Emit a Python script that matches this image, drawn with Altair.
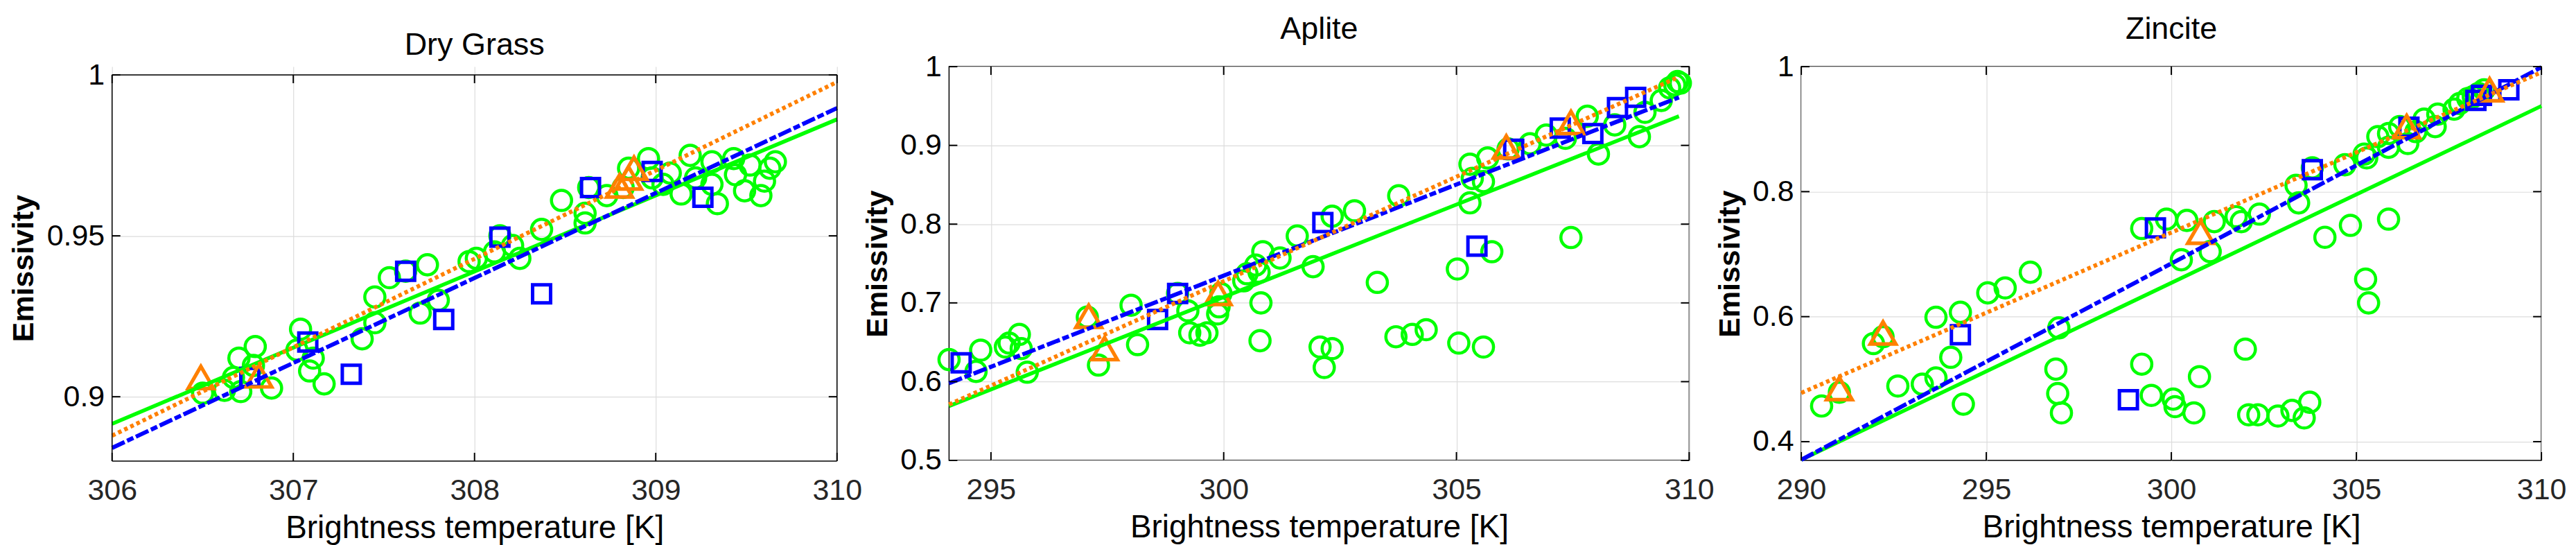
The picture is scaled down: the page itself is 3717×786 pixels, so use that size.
import altair as alt
import pandas as pd

FONT = "Liberation Sans"
GREEN = "#00ff00"
BLUE = "#0000ff"
ORANGE = "#ff8000"

# ---------------- Dry Grass ----------------
dg_circ_x = [306.50, 306.62, 306.67, 306.70, 306.71, 306.79, 306.78, 306.88, 307.04, 307.02,
             307.11, 307.09, 307.17, 307.38, 307.45, 307.45, 307.53, 307.62, 307.70, 307.74,
             307.80, 307.97, 308.01, 308.11, 308.14, 308.21, 308.25, 308.37, 308.48, 308.61,
             308.61, 308.63, 308.73, 308.82, 308.85, 308.96, 308.98, 309.04, 309.08, 309.14,
             309.19, 309.22, 309.31, 309.31, 309.34, 309.43, 309.44, 309.49, 309.52, 309.58,
             309.60, 309.63, 309.66]
dg_circ_y = [0.9011, 0.9020, 0.9060, 0.9120, 0.9016, 0.9156, 0.9097, 0.9027, 0.9210, 0.9145,
             0.9120, 0.9080, 0.9040, 0.9180, 0.9230, 0.9310, 0.9370, 0.9390, 0.9260, 0.9410,
             0.9300, 0.9420, 0.9430, 0.9450, 0.9500, 0.9470, 0.9430, 0.9520, 0.9610, 0.9540,
             0.9570, 0.9650, 0.9625, 0.9650, 0.9710, 0.9740, 0.9680, 0.9660, 0.9695, 0.9630,
             0.9750, 0.9680, 0.9730, 0.9660, 0.9600, 0.9740, 0.9690, 0.9640, 0.9720, 0.9625,
             0.9670, 0.9710, 0.9730]
dg_sq_x = [306.76, 307.08, 307.32, 307.62, 307.83, 308.14, 308.37, 308.64, 308.98, 309.26]
dg_sq_y = [0.9060, 0.9170, 0.9070, 0.9390, 0.9240, 0.9496, 0.9320, 0.9650, 0.9700, 0.9620]
dg_tri_x = [306.49, 306.81, 308.80, 308.85, 308.88]
dg_tri_y = [0.9060, 0.9065, 0.9655, 0.9680, 0.9710]
dg_fit_x = [306.0, 310.0]
dg_green_y = [0.8916, 0.9862]
dg_blue_y = [0.8841, 0.9897]
dg_orange_y = [0.8879, 0.9978]
dg_xticks = [306, 307, 308, 309, 310]
dg_yticks = [0.9, 0.95, 1.0]

# ---------------- Aplite ----------------
ap_circ_x = [294.10, 294.68, 294.78, 295.31, 295.39, 295.61, 295.65, 295.78, 297.07, 297.31,
             298.01, 298.15, 299.01, 299.23, 299.27, 299.49, 299.64, 299.87, 299.90, 299.94,
             300.43, 300.50, 300.69, 300.76, 300.84, 300.80, 300.78, 301.21, 301.58, 301.92,
             302.07, 302.16, 302.33, 302.33, 302.81, 303.30, 303.76, 303.70, 304.05, 304.35,
             305.02, 305.05, 305.29, 305.29, 305.34, 305.58, 305.58, 305.67, 305.76, 306.11,
             306.58, 306.93, 307.34, 307.46, 307.81, 308.05, 308.40, 308.93, 309.05, 309.40,
             309.58, 309.69, 309.75, 309.81]
ap_circ_y = [0.628, 0.613, 0.640, 0.644, 0.649, 0.660, 0.642, 0.612, 0.682, 0.621,
             0.697, 0.647, 0.712, 0.690, 0.662, 0.659, 0.662, 0.686, 0.695, 0.712,
             0.728, 0.737, 0.748, 0.739, 0.765, 0.700, 0.652, 0.757, 0.785, 0.746,
             0.644, 0.618, 0.642, 0.810, 0.817, 0.726, 0.836, 0.657, 0.660, 0.666,
             0.743, 0.649, 0.827, 0.876, 0.858, 0.644, 0.854, 0.884, 0.765, 0.8955,
             0.902, 0.913, 0.909, 0.783, 0.937, 0.889, 0.926, 0.911, 0.942, 0.957,
             0.973, 0.977, 0.981, 0.979]
ap_sq_x = [294.36, 298.58, 299.01, 302.13, 305.44, 306.23, 307.23, 307.93, 308.46, 308.85]
ap_sq_y = [0.624, 0.679, 0.712, 0.802, 0.772, 0.895, 0.922, 0.915, 0.948, 0.961]
ap_tri_x = [297.10, 297.44, 299.88, 306.07, 307.46]
ap_tri_y = [0.683, 0.642, 0.712, 0.898, 0.929]
ap_fit_x = [294.10, 309.78]
ap_green_y = [0.569, 0.937]
ap_blue_y = [0.598, 0.961]
ap_orange_y = [0.571, 0.987]
ap_xticks = [295, 300, 305, 310]
ap_yticks = [0.5, 0.6, 0.7, 0.8, 0.9, 1.0]

# ---------------- Zincite ----------------
zn_circ_x = [290.55, 291.03, 291.95, 292.21, 292.61, 293.27, 293.64, 293.64, 294.04, 294.30,
             294.38, 295.04, 295.51, 296.19, 296.88, 296.93, 297.03, 296.96, 299.20, 299.20,
             299.46, 299.87, 300.05, 300.10, 300.27, 300.42, 300.61, 300.76, 301.05, 301.16,
             301.75, 301.89, 302.00, 302.09, 302.34, 302.38, 302.88, 303.26, 303.44, 303.37,
             303.59, 303.74, 303.81, 304.15, 304.69, 304.84, 305.21, 305.28, 305.25, 305.33,
             305.58, 305.87, 305.87, 305.87, 306.17, 306.39, 306.61, 306.83, 307.13, 307.20,
             307.64, 307.79, 308.01, 308.16, 308.30, 308.45]
zn_circ_y = [0.457, 0.479, 0.557, 0.568, 0.489, 0.492, 0.502, 0.599, 0.535, 0.607,
             0.460, 0.638, 0.646, 0.671, 0.516, 0.477, 0.446, 0.582, 0.524, 0.741,
             0.474, 0.756, 0.468, 0.456, 0.691, 0.754, 0.446, 0.504, 0.704, 0.752,
             0.760, 0.752, 0.548, 0.443, 0.443, 0.764, 0.441, 0.450, 0.782, 0.810,
             0.438, 0.463, 0.838, 0.727, 0.843, 0.746, 0.860, 0.854, 0.660, 0.622,
             0.888, 0.893, 0.756, 0.871, 0.904, 0.877, 0.896, 0.916, 0.904, 0.924,
             0.932, 0.941, 0.949, 0.952, 0.957, 0.963]
zn_sq_x = [294.30, 298.84, 299.57, 303.81, 306.42, 308.23, 308.38, 309.12]
zn_sq_y = [0.571, 0.467, 0.742, 0.835, 0.903, 0.946, 0.954, 0.963]
zn_tri_x = [291.03, 292.21, 300.79, 306.36, 308.60]
zn_tri_y = [0.485, 0.574, 0.735, 0.904, 0.963]
zn_fit_x = [290.0, 310.0]
zn_green_y = [0.371, 0.937]
zn_blue_y = [0.371, 0.999]
zn_orange_y = [0.478, 0.991]
zn_xticks = [290, 295, 300, 305, 310]
zn_yticks = [0.4, 0.6, 0.8, 1.0]


def panel(name, cx, cy, sx, sy, tx, ty, fx, gy, by, oy, xdom, ydom, xticks, yticks,
          w, h, ytitle_x, top=0, title_offset=10.5):
    xs = alt.Scale(domain=xdom, nice=False, zero=False)
    if top:
        ys = alt.Scale(domain=ydom, nice=False, zero=False, range=[h, top])
    else:
        ys = alt.Scale(domain=ydom, nice=False, zero=False)
    xaxis = alt.Axis(values=xticks, format="~g", title="Brightness temperature [K]",
                     titleFont=FONT, titleFontSize=46, titleFontWeight="normal",
                     titleColor="black", titleY=75, titleBaseline="top",
                     labelFont=FONT, labelFontSize=43, labelColor="#262626",
                     labelPadding=21.5, labelFlush=False, labelOverlap=False,
                     ticks=False, tickSize=0, domain=False, grid=True,
                     gridColor="#dcdcdc", gridWidth=1.2)
    yaxis = alt.Axis(values=yticks, format="~g", title="Emissivity",
                     titleFont=FONT, titleFontSize=43, titleFontWeight="bold",
                     titleColor="black", titleX=ytitle_x, titleY=(h + top) / 2,
                     titleAngle=270, titleBaseline="bottom", titleAlign="center",
                     labelFont=FONT, labelFontSize=43, labelColor="black",
                     labelPadding=11, labelFlush=False, labelOverlap=False,
                     ticks=False, tickSize=0, domain=False, grid=True,
                     gridColor="#dcdcdc", gridWidth=1.2)
    X = alt.X("x:Q", scale=xs, axis=xaxis)
    Y = alt.Y("y:Q", scale=ys, axis=yaxis)

    circ = alt.Chart(pd.DataFrame({"x": cx, "y": cy})).mark_point(
        shape="circle", filled=False, stroke=GREEN, strokeWidth=4.5, size=850, opacity=1
    ).encode(x=X, y=Y)
    sq = alt.Chart(pd.DataFrame({"x": sx, "y": sy})).mark_point(
        shape="square", filled=False, stroke=BLUE, strokeWidth=5, size=676, opacity=1
    ).encode(x=X, y=Y)
    tri = alt.Chart(pd.DataFrame({"x": tx, "y": ty})).mark_point(
        shape="triangle-up", filled=False, stroke=ORANGE, strokeWidth=5.2, size=1369,
        opacity=1, strokeJoin="miter"
    ).encode(x=X, y=Y)
    lg = alt.Chart(pd.DataFrame({"x": fx, "y": gy})).mark_line(
        color=GREEN, strokeWidth=5.5).encode(x=X, y=Y)
    lb = alt.Chart(pd.DataFrame({"x": fx, "y": by})).mark_line(
        color=BLUE, strokeWidth=6, strokeDash=[20, 4, 10, 4]).encode(x=X, y=Y)
    lo = alt.Chart(pd.DataFrame({"x": fx, "y": oy})).mark_line(
        color=ORANGE, strokeWidth=6, strokeDash=[5.3, 4.5]).encode(x=X, y=Y)

    xt = pd.DataFrame({"x": xticks})
    yt = pd.DataFrame({"y": yticks})
    tk = dict(color="black", strokeWidth=2)
    t_top = alt.Chart(xt).mark_rule(**tk).encode(
        x=X, y=alt.value(top), y2=alt.value(top + 12))
    t_bot = alt.Chart(xt).mark_rule(**tk).encode(
        x=X, y=alt.value(h), y2=alt.value(h - 12))
    t_left = alt.Chart(yt).mark_rule(**tk).encode(y=Y, x=alt.value(0), x2=alt.value(12))
    t_right = alt.Chart(yt).mark_rule(**tk).encode(y=Y, x=alt.value(w), x2=alt.value(w - 12))

    layers = [circ, sq, tri, lg, lb, lo, t_top, t_bot, t_left, t_right]
    props = dict(width=w, height=h,
                 title=alt.TitleParams(name, font=FONT, fontSize=45, fontWeight="normal",
                                       color="black", offset=title_offset, frame="group",
                                       anchor="middle"))
    if top:
        # frame drawn on the shifted plot area through the scales
        fr = dict(color="black", strokeWidth=1.5)
        x0, x1 = xdom
        y0, y1 = ydom
        layers += [
            alt.Chart().mark_rule(**fr).encode(x=alt.X(datum=x0, scale=xs), x2=alt.X2(datum=x1),
                                                y=alt.Y(datum=y1, scale=ys)),
            alt.Chart().mark_rule(**fr).encode(x=alt.X(datum=x0, scale=xs), x2=alt.X2(datum=x1),
                                                y=alt.Y(datum=y0, scale=ys)),
            alt.Chart().mark_rule(**fr).encode(x=alt.X(datum=x0, scale=xs),
                                                y=alt.Y(datum=y0, scale=ys), y2=alt.Y2(datum=y1)),
            alt.Chart().mark_rule(**fr).encode(x=alt.X(datum=x1, scale=xs),
                                                y=alt.Y(datum=y0, scale=ys), y2=alt.Y2(datum=y1)),
        ]
        props["view"] = alt.ViewBackground(stroke="white", strokeWidth=1.5)
    return alt.layer(*layers, data=pd.DataFrame({"d": [0]})).properties(**props)


p1 = panel("Dry Grass", dg_circ_x, dg_circ_y, dg_sq_x, dg_sq_y, dg_tri_x, dg_tri_y,
           dg_fit_x, dg_green_y, dg_blue_y, dg_orange_y, [306, 310], [0.88, 1.0],
           dg_xticks, dg_yticks, 1048, 570, -105, top=12, title_offset=-1.2)
p2 = panel("Aplite", ap_circ_x, ap_circ_y, ap_sq_x, ap_sq_y, ap_tri_x, ap_tri_y,
           ap_fit_x, ap_green_y, ap_blue_y, ap_orange_y, [294.1, 310], [0.5, 1.0],
           ap_xticks, ap_yticks, 1070, 569, -81)
p3 = panel("Zincite", zn_circ_x, zn_circ_y, zn_sq_x, zn_sq_y, zn_tri_x, zn_tri_y,
           zn_fit_x, zn_green_y, zn_blue_y, zn_orange_y, [290, 310], [0.37, 1.0],
           zn_xticks, zn_yticks, 1070, 569, -81)

chart = alt.hconcat(p1, p2, p3, spacing=0).properties(
    padding={"left": 5, "top": 9.5, "right": 5, "bottom": 5},
    background="white",
).configure_view(stroke="black", strokeWidth=1.5)

chart.save("out.html", embed_options={"renderer": "svg", "actions": False})
